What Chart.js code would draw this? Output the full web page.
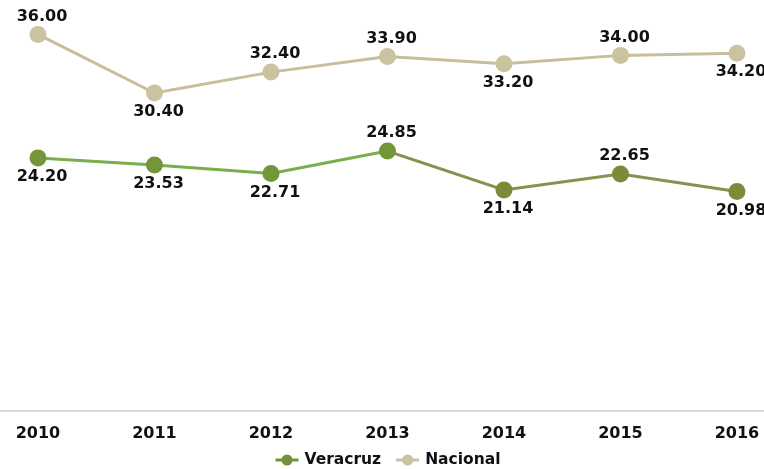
<!DOCTYPE html>
<html>
<head>
<meta charset="utf-8">
<script src="https://cdn.jsdelivr.net/npm/chart.js@4/dist/chart.umd.min.js"></script>
<style>
  html, body { margin: 0; padding: 0; background: #fff; }
  #wrap { width: 764px; height: 469px; }
</style>
</head>
<body>
<div id="wrap"><canvas id="lineChart"></canvas></div>
<script>
const years = [2010, 2011, 2012, 2013, 2014, 2015, 2016]
const veracruz = [24.20, 23.53, 22.71, 24.85, 21.14, 22.65, 20.98]
const nacional = [36.00, 30.40, 32.40, 33.90, 33.20, 34.00, 34.20]
// where each value label sits relative to its point
const veracruzLabelPos = ['below', 'below', 'below', 'above', 'below', 'above', 'below']
const nacionalLabelPos = ['above', 'below', 'above', 'above', 'below', 'above', 'below']

const FONT = "'DejaVu Sans', Verdana, sans-serif"
const TEXT = '#111'

const valueLabels = {
  id: 'valueLabels',
  afterDatasetsDraw(chart) {
    const ctx = chart.ctx
    ctx.save()
    ctx.font = 'bold 16px ' + FONT
    ctx.fillStyle = TEXT
    ctx.textAlign = 'center'
    ctx.textBaseline = 'middle'
    chart.data.datasets.forEach((ds, i) => {
      const meta = chart.getDatasetMeta(i)
      meta.data.forEach((pt, j) => {
        const dy = ds.labelPos[j] === 'above' ? -18 : 19
        ctx.fillText(ds.data[j].y.toFixed(2), pt.x + 4, pt.y + dy)
      })
    })
    ctx.restore()
  }
}

// simple bottom legend: line + dot, then the series name
const bottomLegend = {
  id: 'bottomLegend',
  afterDraw(chart) {
    const ctx = chart.ctx
    const iconW = 23, gap = 6, itemGap = 15
    ctx.save()
    ctx.font = 'bold 15.5px ' + FONT
    ctx.textBaseline = 'middle'
    const items = chart.data.datasets.map(ds => ({
      ds, w: iconW + gap + ctx.measureText(ds.label).width
    }))
    const total = items.reduce((s, it) => s + it.w, 0) + itemGap * (items.length - 1)
    let x = chart.width / 2 + 6 - total / 2
    const y = chart.height - 9
    items.forEach(({ ds, w }) => {
      const col = ds.legendColor
      ctx.strokeStyle = col
      ctx.lineWidth = 3
      ctx.beginPath()
      ctx.moveTo(x, y)
      ctx.lineTo(x + iconW, y)
      ctx.stroke()
      ctx.fillStyle = col
      ctx.beginPath()
      ctx.arc(x + iconW / 2, y, 5.5, 0, Math.PI * 2)
      ctx.fill()
      ctx.fillStyle = TEXT
      ctx.fillText(ds.label, x + iconW + gap, y)
      x += w + itemGap
    })
    ctx.restore()
  }
}

const ctx = document.getElementById('lineChart').getContext('2d')

const chart = new Chart(ctx, {
  type: 'line',
  data: {
    datasets: [
      {
        label: 'Veracruz',
        data: years.map((y, i) => ({ x: y, y: veracruz[i] })),
        labelPos: veracruzLabelPos,
        legendColor: '#76903a',
        borderColor: '#7aad4c',
        backgroundColor: c => (c.dataIndex >= 4 ? '#7b8b3a' : '#729638'),
        segment: {
          borderColor: c => (c.p0DataIndex >= 3 ? '#8b8f4f' : '#7aad4c')
        },
        borderWidth: 3,
        pointRadius: 8.5,
        pointHoverRadius: 8.5,
        pointBorderWidth: 0,
        tension: 0
      },
      {
        label: 'Nacional',
        data: years.map((y, i) => ({ x: y, y: nacional[i] })),
        labelPos: nacionalLabelPos,
        legendColor: '#cbc29f',
        borderColor: '#c7be9a',
        backgroundColor: '#cbc29f',
        borderWidth: 3,
        pointRadius: 8.5,
        pointHoverRadius: 8.5,
        pointBorderWidth: 0,
        tension: 0
      }
    ]
  },
  options: {
    responsive: true,
    maintainAspectRatio: false,
    animation: false,
    layout: { autoPadding: false, padding: { top: 24, left: 0, right: 0, bottom: 12 } },
    scales: {
      x: {
        type: 'linear',
        min: 2009.674,
        max: 2016.232,
        afterBuildTicks: scale => {
          scale.ticks = years.map(v => ({ value: v }))
        },
        grid: { display: false, drawTicks: false },
        border: { display: true, color: '#d9d9d9', width: 2 },
        ticks: {
          color: TEXT,
          padding: 4,
          maxRotation: 0,
          font: { family: FONT, size: 16, weight: 'bold', lineHeight: 2.375 },
          callback: v => String(v)
        }
      },
      y: {
        display: false,
        min: 0,
        max: 37
      }
    },
    plugins: {
      tooltip: { enabled: false },
      legend: { display: false }
    }
  },
  plugins: [valueLabels, bottomLegend]
})
</script>
</body>
</html>
